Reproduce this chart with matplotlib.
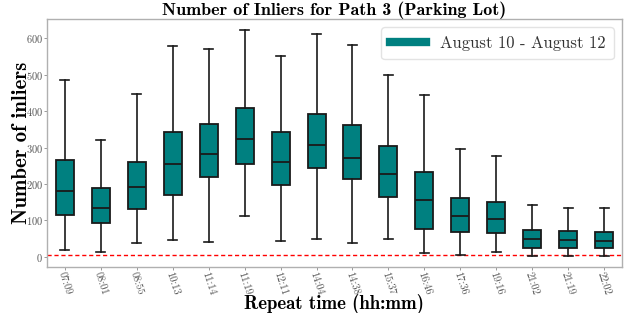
import matplotlib
matplotlib.use("Agg")
import matplotlib.pyplot as plt
from matplotlib.lines import Line2D

labels = ["07:09", "08:01", "08:55", "10:13", "11:14", "11:19", "12:11", "14:04",
          "14:38", "15:37", "16:46", "17:36", "19:16", "21:02", "21:19", "22:02"]
whislo = [20, 14, 38, 46, 41, 111, 44, 50, 37, 48, 11, 6, 14, 1, 1, 1]
q1 =     [115, 94, 132, 170, 218, 255, 198, 245, 213, 164, 77, 68, 65, 25, 25, 23]
med =    [182, 133, 192, 256, 281, 324, 259, 308, 270, 228, 155, 111, 104, 50, 47, 43]
q3 =     [267, 189, 261, 344, 365, 408, 343, 391, 361, 303, 232, 162, 151, 73, 71, 69]
whishi = [485, 322, 448, 578, 570, 622, 551, 613, 581, 500, 445, 296, 277, 141, 134, 133]
threshold = 6
legend_label = "August 10 - August 12"

plt.rcParams['font.family'] = ['cmr10', 'DejaVu Serif']
plt.rcParams['axes.formatter.use_mathtext'] = True

fig = plt.figure(figsize=(6.32, 3.13), dpi=100)
ax = fig.add_axes([47/632, 1 - 267/313, (622-47)/632, (267-19)/313])

stats = []
for i in range(len(labels)):
    stats.append(dict(label=labels[i], whislo=whislo[i], q1=q1[i], med=med[i],
                      q3=q3[i], whishi=whishi[i], fliers=[]))

teal = "#008080"
ax.bxp(stats, positions=range(1, len(labels)+1), widths=0.5, patch_artist=True,
       showfliers=False,
       boxprops=dict(facecolor=teal, edgecolor="#1a1a1a", linewidth=1.3),
       medianprops=dict(color="#1a1a1a", linewidth=1.3),
       whiskerprops=dict(color="#1a1a1a", linewidth=1.2),
       capprops=dict(color="#1a1a1a", linewidth=1.2))

ax.axhline(threshold, color="red", linestyle=(0, (3, 2)), linewidth=1.0, zorder=0.5)

ax.set_xlim(0.5, len(labels) + 0.5)
ax.set_ylim(-28, 653)
ax.set_yticks([0, 100, 200, 300, 400, 500, 600])
ax.set_xticks(range(1, len(labels)+1))
ax.set_xticklabels(labels, rotation=-72, ha='center', va='top')
ax.tick_params(axis='both', labelsize=7.5, labelcolor="#555555", color="#888888", length=2, width=0.6, pad=1)
for s in ax.spines.values():
    s.set_color("#b0b0b0")
    s.set_linewidth(1.0)

bold = ['cmb10', 'DejaVu Serif']
ax.set_title("Number of Inliers for Path 3 (Parking Lot)", fontsize=13, family=bold, pad=3)
ax.set_ylabel("Number of inliers", fontsize=15, family=bold, va='bottom')
ax.yaxis.set_label_coords((31 - 47) / 575, 0.5)
ax.set_xlabel("Repeat time (hh:mm)", fontsize=13.5, family=bold, va='top')
ax.xaxis.set_label_coords(0.5, -(294 - 267) / 248)
handle = Line2D([0], [0], color=teal, linewidth=6)
leg = ax.legend([handle], [legend_label], loc='upper right', fontsize=12, frameon=True,
                handlelength=2.2, borderpad=0.5, fancybox=True)
leg.get_frame().set_edgecolor("#dddddd")
for t in leg.get_texts():
    t.set_color("#333333")

fig.savefig("out.png", dpi=100)
